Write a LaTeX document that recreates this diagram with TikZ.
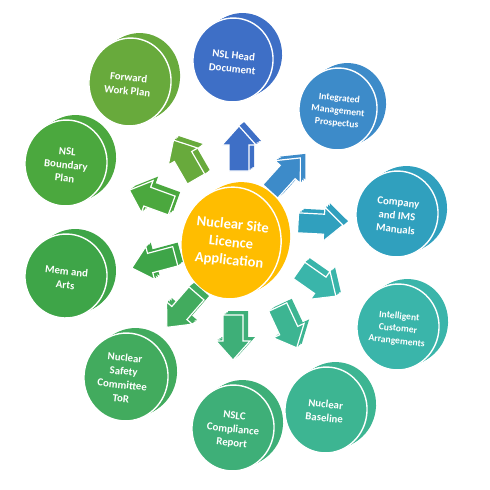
\documentclass[tikz,border=0pt]{standalone}
\usepackage{fontspec}
\setmainfont{Carlito}
\definecolor{cyel}{HTML}{FFBD00}
\definecolor{chead}{HTML}{3E6FC6}
\definecolor{cint}{HTML}{3D8BC9}
\definecolor{ccomp}{HTML}{30A0BE}
\definecolor{cintel}{HTML}{3AB5AA}
\definecolor{cbase}{HTML}{3DB592}
\definecolor{cnslc}{HTML}{3EAF78}
\definecolor{csafe}{HTML}{42AB5E}
\definecolor{cmem}{HTML}{3EA548}
\definecolor{cbound}{HTML}{4BA83E}
\definecolor{cfwd}{HTML}{68AA3C}
\tikzset{
  disctext/.style={text=white, font=\bfseries\fontsize{10.8}{13.6}\selectfont, align=center, rotate=-6, inner sep=0pt},
  smalltext/.style={disctext, font=\bfseries\fontsize{9.6}{12.4}\selectfont},
  centertext/.style={disctext, font=\bfseries\fontsize{14.5}{18}\selectfont},
  facestyle/.style={draw=white, line width=1.4pt},
}
\newcommand\discshape[5]{% x y rx ry colour
  \foreach \k in {1,0.8,0.6,0.4,0.2}{
    \fill[#5, shift={(#1+9*\k,#2-5*\k)}, rotate=-8] (0,0) ellipse [x radius=#3, y radius=#4];
  }
  \filldraw[fill=#5, facestyle, shift={(#1,#2)}, rotate=-8] (0,0) ellipse [x radius=#3, y radius=#4];
}
\newcommand\blockarrow[4]{% x y angle colour
  \foreach \k in {1,0.66,0.33}{
    \fill[#4, shift={(#1+5*\k,#2-4*\k)}, rotate=#3] (-22,-10) -- (4,-10) -- (4,-17) -- (23,0) -- (4,17) -- (4,10) -- (-22,10) -- cycle;
  }
  \filldraw[fill=#4, draw=white, line width=1.2pt, shift={(#1,#2)}, rotate=#3] (-22,-10) -- (4,-10) -- (4,-17) -- (23,0) -- (4,17) -- (4,10) -- (-22,10) -- cycle;
}
\begin{document}
\begin{tikzpicture}[x=1pt,y=-1pt]
\useasboundingbox (0,0) rectangle (490,490);
% discs
\discshape{231}{243}{50}{56}{cyel}
\discshape{233}{60}{40}{42}{chead}
\discshape{338}{109}{39}{41}{cint}
\discshape{397}{214}{41}{43}{ccomp}
\discshape{398}{327}{41}{43}{cintel}
\discshape{326}{410}{41}{43}{cbase}
\discshape{233}{428}{41}{43}{cnslc}
\discshape{126}{377}{42}{44}{csafe}
\discshape{66}{276}{41}{42}{cmem}
\discshape{66}{163}{41}{43}{cbound}
\discshape{130}{82}{41}{44}{cfwd}
% texts
\node[centertext] (c) at (231,243) {Nuclear Site\\Licence\\Application};
\node[disctext] (head) at (233,62) {NSL Head\\Document};
\node[smalltext] (int) at (338,111) {Integrated\\Management\\Prospectus};
\node[disctext] (comp) at (397,216) {Company\\and IMS\\Manuals};
\node[smalltext] (intel) at (398,329) {Intelligent\\Customer\\Arrangements};
\node[disctext] (base) at (325,411) {Nuclear\\Baseline};
\node[disctext] (nslc) at (233,430) {NSLC\\Compliance\\Report};
\node[disctext] (safe) at (123,378) {Nuclear\\Safety\\Committee\\ToR};
\node[disctext] (mem) at (66,278) {Mem and\\Arts};
\node[disctext] (bound) at (66,165) {NSL\\Boundary\\Plan};
\node[disctext] (fwd) at (128,84) {Forward\\Work Plan};
% arrows
\blockarrow{239}{149}{90}{chead}
\blockarrow{285}{175}{48}{cint}
\blockarrow{320}{224}{-3}{ccomp}
\blockarrow{317}{283}{-35}{cintel}
\blockarrow{287}{327}{-65}{cbase}
\blockarrow{233}{337}{-90}{cnslc}
\blockarrow{182}{310}{-131}{csafe}
\blockarrow{154}{262}{195}{cmem}
\blockarrow{151}{198}{160}{cbound}
\blockarrow{185}{160}{120}{cfwd}
\end{tikzpicture}
\end{document}
